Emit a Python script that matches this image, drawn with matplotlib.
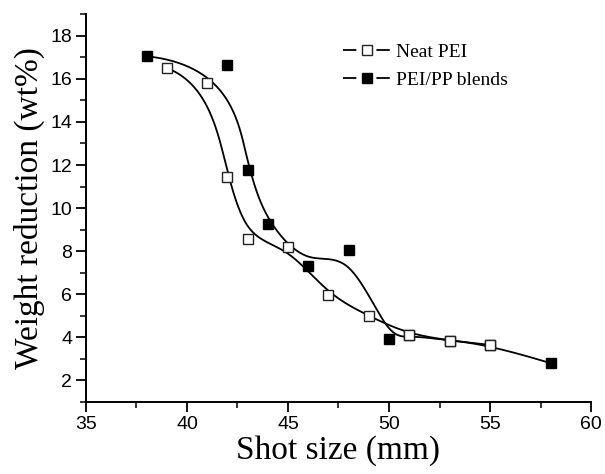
import numpy as np
import matplotlib
matplotlib.use("Agg")
import matplotlib.pyplot as plt
from matplotlib.ticker import MultipleLocator
from matplotlib.lines import Line2D
from matplotlib.legend_handler import HandlerTuple

# ---- data ----
neat_x = [39, 41, 42, 43, 45, 47, 49, 51, 53, 55]
neat_y = [16.5, 15.8, 11.45, 8.55, 8.2, 5.95, 5.0, 4.1, 3.85, 3.65]
# the blend points at 51, 53 and 55 sit under the open squares
blend_x = [38, 42, 43, 44, 46, 48, 50, 51, 53, 55, 58]
blend_y = [17.05, 16.65, 11.75, 9.25, 7.3, 8.05, 3.9, 4.1, 3.85, 3.65, 2.8]
labels = ["Neat PEI", "PEI/PP blends"]


def bspline_curve(x, y, degree=3, num=800):
    """Clamped uniform B-spline using the data points as control points
    (like Origin's 'B-Spline' connection)."""
    P = np.column_stack([x, y]).astype(float)
    n = len(P)
    p = min(degree, n - 1)
    inner = np.arange(1, n - p)
    knots = np.concatenate([np.zeros(p + 1), inner, np.full(p + 1, n - p)]).astype(float)
    t = np.linspace(0, n - p, num)
    t[-1] -= 1e-9
    N = np.zeros((num, len(knots) - 1))
    for i in range(len(knots) - 1):
        N[:, i] = (t >= knots[i]) & (t < knots[i + 1])
    for k in range(1, p + 1):
        Nn = np.zeros((num, len(knots) - 1 - k))
        for i in range(len(knots) - 1 - k):
            a = 0.0
            d1 = knots[i + k] - knots[i]
            if d1 > 0:
                a = (t - knots[i]) / d1 * N[:, i]
            b = 0.0
            d2 = knots[i + k + 1] - knots[i + 1]
            if d2 > 0:
                b = (knots[i + k + 1] - t) / d2 * N[:, i + 1]
            Nn[:, i] = a + b
        N = Nn
    C = N @ P
    return C[:, 0], C[:, 1]


fig = plt.figure(figsize=(6.05, 4.74), dpi=100)
ax = fig.add_axes([0.142, 0.152, 0.835, 0.818])

nx, ny = bspline_curve(neat_x, neat_y)
bx, by = bspline_curve(blend_x, blend_y)
ax.plot(bx, by, color="black", lw=1.3, zorder=2)
ax.plot(nx, ny, color="black", lw=1.3, zorder=2)
ax.plot(blend_x, blend_y, ls="none", marker="s", ms=7.5, mfc="black", mec="black", zorder=3)
ax.plot(neat_x, neat_y, ls="none", marker="s", ms=7.5, mfc="white", mec="#222222", mew=1.0, zorder=4)

ax.set_xlim(35, 60)
ax.set_ylim(1, 19)
ax.xaxis.set_major_locator(MultipleLocator(5))
ax.xaxis.set_minor_locator(MultipleLocator(2.5))
ax.yaxis.set_minor_locator(MultipleLocator(1))
ax.set_yticks([2, 4, 6, 8, 10, 12, 14, 16, 18])
for s in ["top", "right"]:
    ax.spines[s].set_visible(False)
for s in ["left", "bottom"]:
    ax.spines[s].set_linewidth(1.4)
ax.tick_params(which="major", direction="out", length=7, width=1.3, labelsize=14, pad=3)
ax.tick_params(which="minor", direction="out", length=4, width=1.1)
for lab in ax.get_xticklabels() + ax.get_yticklabels():
    lab.set_family("Liberation Sans")

ax.set_xlabel("Shot size (mm)", family="Liberation Serif", fontsize=24, labelpad=2)
ax.set_ylabel("Weight reduction (wt%)", family="Liberation Serif", fontsize=24, labelpad=4)

# legend handles: line segment - gap - marker - gap - line segment
def seg():
    return Line2D([], [], color="black", lw=1.3, ls=(0, (7.4, 11.1)))

h_neat = (seg(), Line2D([], [], ls="none", marker="s", ms=7, mfc="white", mec="#222222"))
h_blend = (seg(), Line2D([], [], ls="none", marker="s", ms=7, mfc="black", mec="black"))
ax.legend([h_neat, h_blend], labels, loc="upper left", bbox_to_anchor=(0.475, 0.97), frameon=False,
          prop={"family": "Liberation Serif", "size": 14}, handlelength=2.4,
          handletextpad=0.3, labelspacing=0.55,
          handler_map={tuple: HandlerTuple(ndivide=1, pad=0)})

fig.savefig("out.png", dpi=100)
